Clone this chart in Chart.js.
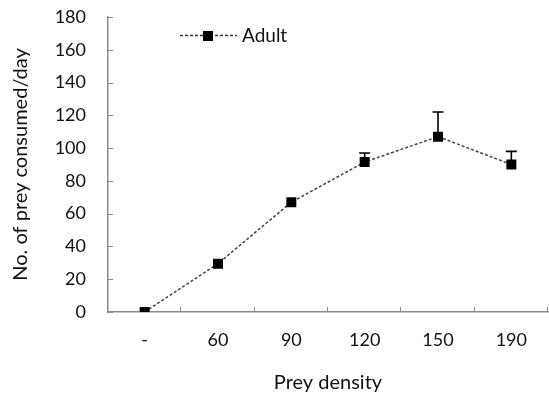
<!DOCTYPE html>
<html lang="en">
<head>
    <meta charset="UTF-8">
    <title>Prey consumed</title>
    <script src="https://cdn.jsdelivr.net/npm/chart.js"></script>
    <style>
        html, body { margin: 0; padding: 0; background: #fff; }
        .container { width: 549px; height: 395px; }
    </style>
</head>
<body>
    <div class="container">
        <canvas id="grafico" width="549" height="395"></canvas>
    </div>
    <script>
        const densidades = ['-', '60', '90', '120', '150', '190'];
        const consumo = [0, 29.5, 67, 91.5, 107, 90];
        const errorArriba = [0, 0, 0, 5.5, 15, 8];
        const marcasY = [0, 20, 40, 60, 80, 100, 120, 140, 160, 180];

        const fuente = 'Lato, "Open Sans", sans-serif';
        const gris = '#8c8c8c';

        // barras de error (solo hacia arriba) y marcas hacia dentro de los ejes
        const extras = {
            id: 'extras',
            beforeDatasetsDraw(chart) {
                const ctx = chart.ctx;
                const x = chart.scales.x, y = chart.scales.y;
                const area = chart.chartArea;
                ctx.save();
                ctx.strokeStyle = gris;
                ctx.lineWidth = 1;
                marcasY.forEach(v => {
                    const py = Math.round(y.getPixelForValue(v)) + 0.5;
                    ctx.beginPath();
                    ctx.moveTo(area.left, py);
                    ctx.lineTo(area.left + 5, py);
                    ctx.stroke();
                });
                const paso = x.getPixelForValue(1) - x.getPixelForValue(0);
                for (let i = 0; i < densidades.length; i++) {
                    const px = Math.round(x.getPixelForValue(i) + paso / 2) - 0.5;
                    ctx.beginPath();
                    ctx.moveTo(px, area.bottom);
                    ctx.lineTo(px, area.bottom - 5);
                    ctx.stroke();
                }
                ctx.strokeStyle = '#000';
                ctx.lineWidth = 1.6;
                consumo.forEach((v, i) => {
                    if (!errorArriba[i]) return;
                    const px = x.getPixelForValue(i);
                    const y0 = y.getPixelForValue(v);
                    const y1 = y.getPixelForValue(v + errorArriba[i]);
                    ctx.beginPath();
                    ctx.moveTo(px, y0);
                    ctx.lineTo(px, y1);
                    ctx.moveTo(px - 5.5, y1);
                    ctx.lineTo(px + 5.5, y1);
                    ctx.stroke();
                });
                ctx.restore();
            },
            afterDraw(chart) {
                // leyenda
                const ctx = chart.ctx;
                ctx.save();
                ctx.strokeStyle = '#333';
                ctx.lineWidth = 1.5;
                ctx.setLineDash([3, 2]);
                ctx.beginPath();
                ctx.moveTo(180, 35.5);
                ctx.lineTo(237, 35.5);
                ctx.stroke();
                ctx.setLineDash([]);
                ctx.fillStyle = '#000';
                ctx.fillRect(203, 31, 10, 10);
                ctx.font = '19px ' + fuente;
                ctx.textBaseline = 'middle';
                ctx.fillStyle = '#111';
                ctx.fillText('Adult', 242, 36);
                ctx.restore();
            }
        };

        new Chart(document.getElementById('grafico').getContext('2d'), {
            type: 'line',
            data: {
                labels: densidades,
                datasets: [{
                    label: 'Adult',
                    data: consumo,
                    borderColor: '#444',
                    borderWidth: 1.5,
                    borderDash: [3, 2],
                    pointStyle: 'rect',
                    pointRadius: 6,
                    pointBackgroundColor: '#000',
                    pointBorderColor: '#000',
                    tension: 0
                }]
            },
            options: {
                responsive: false,
                animation: false,
                layout: { autoPadding: false, padding: { top: 17, right: 1, left: 0, bottom: 0 } },
                plugins: { legend: { display: false }, tooltip: { enabled: false } },
                scales: {
                    x: {
                        offset: true,
                        grid: { display: false, drawTicks: false },
                        border: { color: gris, width: 1.5 },
                        ticks: { color: '#111', font: { family: fuente, size: 18 }, padding: 17 },
                        title: {
                            display: true, text: 'Prey density', color: '#111',
                            font: { family: fuente, size: 20 }, padding: { top: 10, bottom: 0 }
                        },
                        afterFit(s) { s.height = 83; s.paddingLeft = 0; s.paddingRight = 0; }
                    },
                    y: {
                        min: 0,
                        max: 180,
                        grid: { display: false, drawTicks: false },
                        border: { color: gris, width: 1.5 },
                        ticks: { stepSize: 20, color: '#111', font: { family: fuente, size: 18 }, padding: 22 },
                        title: {
                            display: true, text: 'No. of prey consumed/day', color: '#111',
                            font: { family: fuente, size: 20 }, padding: { top: 9, bottom: 0 }
                        },
                        afterFit(s) { s.width = 108; s.paddingTop = 0; s.paddingBottom = 0; }
                    }
                }
            },
            plugins: [extras]
        });
    </script>
</body>
</html>
